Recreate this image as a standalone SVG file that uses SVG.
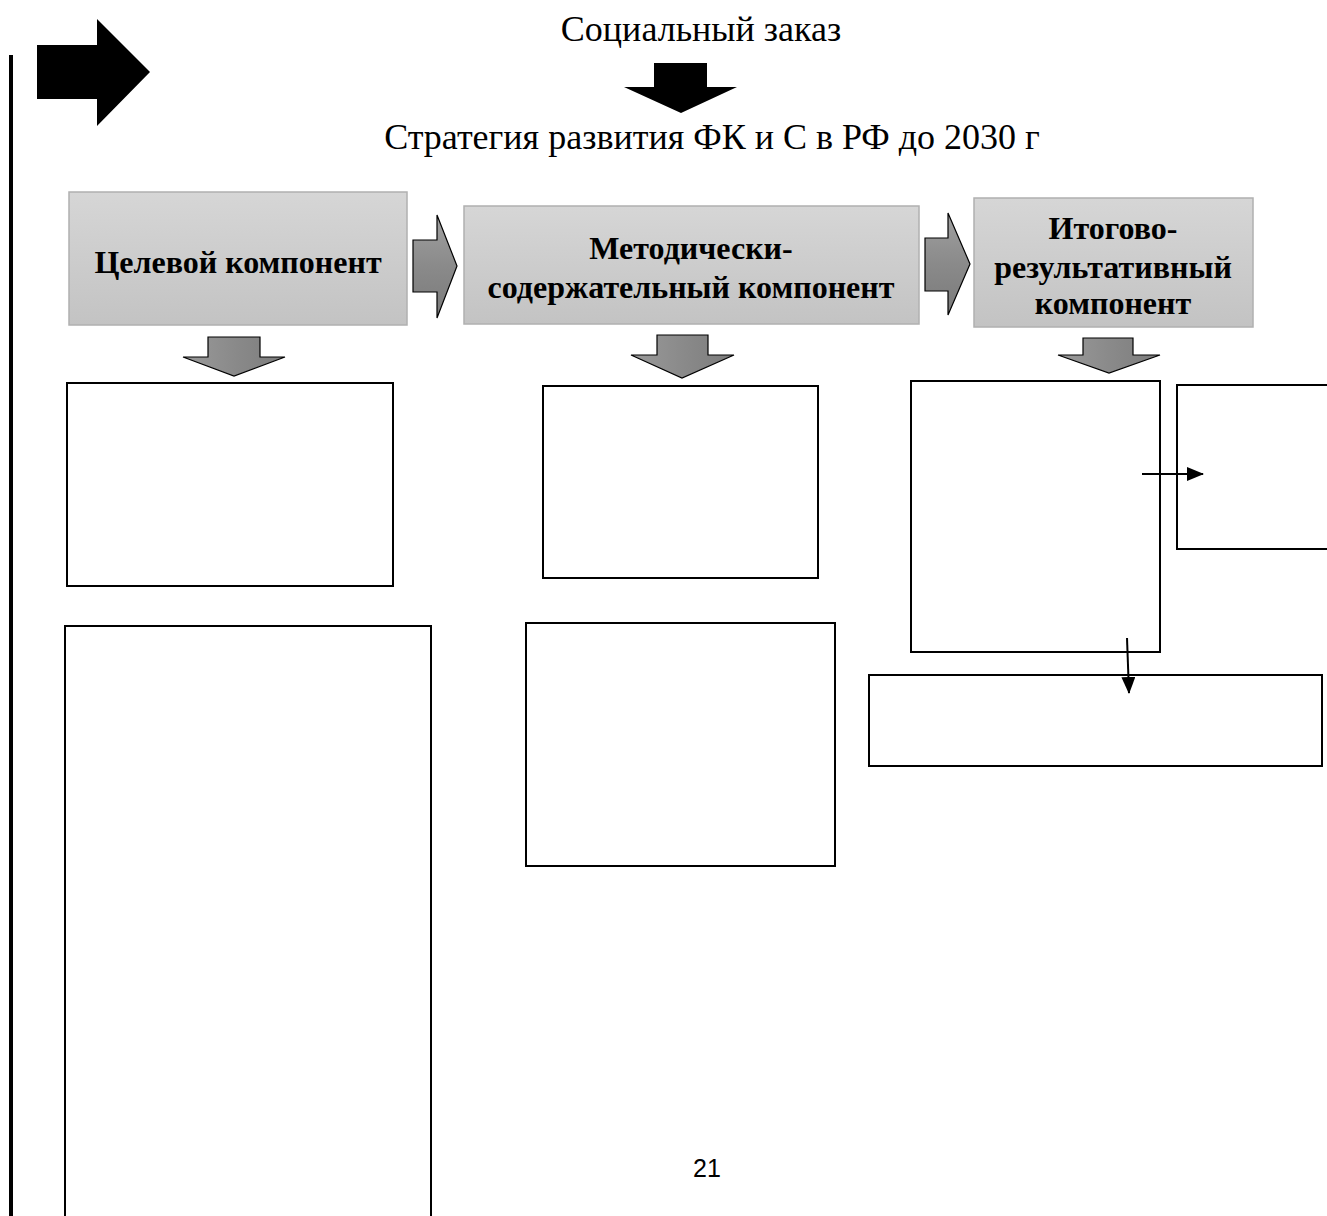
<svg xmlns="http://www.w3.org/2000/svg" width="1327" height="1216" viewBox="0 0 1327 1216">
<defs>
<linearGradient id="gbox" x1="0" y1="0" x2="0" y2="1">
<stop offset="0" stop-color="#d6d6d6"/>
<stop offset="1" stop-color="#c3c3c3"/>
</linearGradient>
<linearGradient id="garrH" x1="0" y1="0" x2="0" y2="1">
<stop offset="0" stop-color="#a0a0a0"/>
<stop offset="0.5" stop-color="#8a8a8a"/>
<stop offset="1" stop-color="#7a7a7a"/>
</linearGradient>
<linearGradient id="garrV" x1="0" y1="0" x2="1" y2="0">
<stop offset="0" stop-color="#9a9a9a"/>
<stop offset="0.5" stop-color="#8a8a8a"/>
<stop offset="1" stop-color="#7c7c7c"/>
</linearGradient>
<marker id="ah" markerWidth="17" markerHeight="14" refX="16" refY="7" orient="auto" markerUnits="userSpaceOnUse" viewBox="0 0 17 14">
<path d="M0,0 L17,7 L0,14 Z" fill="#000"/>
</marker>
</defs>
<style>
.gray{fill:url(#gbox);stroke:#b0b0b0;stroke-width:1.5}
.box{fill:#fff;stroke:#000;stroke-width:2}
.garrH{fill:url(#garrH);stroke:#000;stroke-width:1.2}
.garrV{fill:url(#garrV);stroke:#000;stroke-width:1.2}
.title{font-family:"Liberation Serif","Times New Roman",serif;font-size:36px;fill:#000;text-anchor:middle}
.lbl{font-family:"Liberation Serif","Times New Roman",serif;font-size:32px;font-weight:bold;fill:#000;text-anchor:middle}
.conn{stroke:#000;stroke-width:2;fill:none}
</style>
<rect width="1327" height="1216" fill="#fff"/>

<g id="sidebar">
<rect x="9" y="55" width="4" height="1161" fill="#000"/>
<polygon points="37,45 97,45 97,19 150,72 97,126 97,99 37,99" fill="#000"/>
</g>

<g id="header">
<text class="title" x="701" y="41">Социальный заказ</text>
<polygon points="654,63 707,63 707,87 737,87 681,113 624,87 654,87" fill="#000"/>
<text class="title" x="712" y="149">Стратегия развития ФК и С в РФ до 2030 г</text>
</g>

<g id="node-target">
<rect class="gray" x="69" y="192" width="338" height="133"/>
<text class="lbl" x="238" y="273">Целевой компонент</text>
</g>
<g id="node-method">
<rect class="gray" x="464" y="206" width="455" height="118"/>
<text class="lbl" x="691" y="259">Методически-</text>
<text class="lbl" x="691" y="298">содержательный компонент</text>
</g>
<g id="node-result">
<rect class="gray" x="974" y="198" width="279" height="129"/>
<text class="lbl" x="1113" y="239">Итогово-</text>
<text class="lbl" x="1113" y="278">результативный</text>
<text class="lbl" x="1113" y="314">компонент</text>
</g>

<g id="box-l1"><rect class="box" x="67" y="383" width="326" height="203"/></g>
<g id="box-l2"><rect class="box" x="65" y="626" width="366" height="600"/></g>
<g id="box-m1"><rect class="box" x="543" y="386" width="275" height="192"/></g>
<g id="box-m2"><rect class="box" x="526" y="623" width="309" height="243"/></g>
<g id="box-r1"><rect class="box" x="911" y="381" width="249" height="271"/></g>
<g id="box-r2"><rect class="box" x="1177" y="385" width="160" height="164"/></g>
<g id="box-r3"><rect class="box" x="869" y="675" width="453" height="91"/></g>

<g id="connectors">
<polygon class="garrH" points="413,240 437,240 437,215 457,266 437,318 437,292 413,292"/>
<polygon class="garrH" points="925,238 948,238 948,213 970,264 948,315 948,291 925,291"/>
<polygon class="garrV" points="208,337 260,337 260,357 285,357 234,376 183,357 208,357"/>
<polygon class="garrV" points="657,335 708,335 708,355 734,355 682,378 631,355 657,355"/>
<polygon class="garrV" points="1083,338 1133,338 1133,355 1160,355 1109,373 1058,355 1083,355"/>
<line class="conn" x1="1142" y1="474" x2="1203" y2="474" marker-end="url(#ah)"/>
<line class="conn" x1="1127" y1="638" x2="1129" y2="693" marker-end="url(#ah)"/>
</g>

<g id="page-number">
<text x="707" y="1177" font-family="Liberation Sans, Arial, sans-serif" font-size="25" text-anchor="middle" fill="#000">21</text>
</g>
</svg>
